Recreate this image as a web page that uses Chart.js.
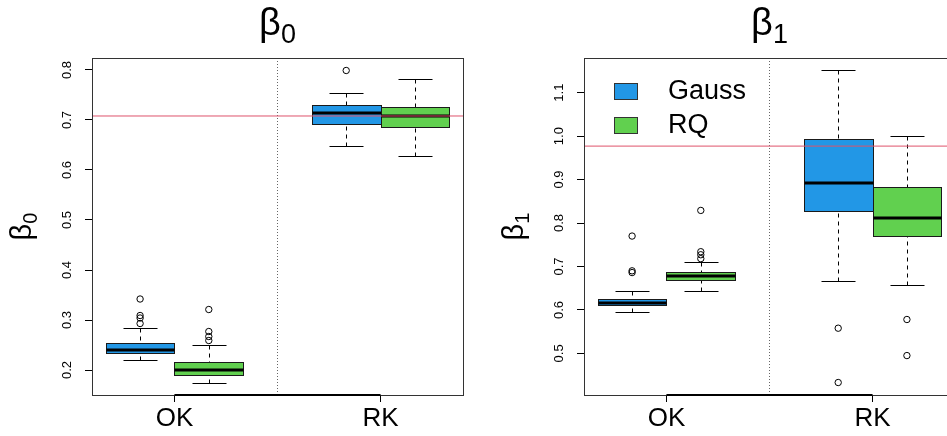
<!DOCTYPE html>
<html>
<head>
<meta charset="utf-8">
<script src="https://cdn.jsdelivr.net/npm/chart.js@4.4.1/dist/chart.umd.min.js"></script>
<style>
  html, body { margin: 0; padding: 0; background: #fff; overflow: hidden; }
  #wrap { position: relative; width: 947px; height: 436px; overflow: hidden; }
  .panel { position: absolute; top: 0; width: 492px; height: 436px; }
</style>
</head>
<body>
<div id="wrap">
  <div class="panel" style="left:0"><canvas id="b0" width="492" height="436"></canvas></div>
  <div class="panel" style="left:492px"><canvas id="b1" width="492" height="436"></canvas></div>
</div>
<script>
const FONT = '"Liberation Sans", Arial, Helvetica, sans-serif';

const groups = ['OK', 'RK'];
const methods = ['Gauss', 'RQ'];
const colors = ['#2297E6', '#61D04F'];

// boxes: [lower whisker, Q1, median, Q3, upper whisker], one per group
const b0Gauss = [[0.220, 0.235, 0.240, 0.255, 0.285], [0.648, 0.692, 0.713, 0.730, 0.753]];
const b0RQ = [[0.175, 0.191, 0.200, 0.216, 0.250], [0.628, 0.686, 0.707, 0.725, 0.781]];
const b0GaussOut = [[0.342, 0.309, 0.304, 0.293], [0.799]];
const b0RQOut = [[0.321, 0.277, 0.267, 0.259], []];
const b0True = 0.708;
const b0Ticks = [0.2, 0.3, 0.4, 0.5, 0.6, 0.7, 0.8];

const b1Gauss = [[0.596, 0.611, 0.617, 0.625, 0.644], [0.667, 0.827, 0.893, 0.994, 1.151]];
const b1RQ = [[0.644, 0.668, 0.677, 0.687, 0.711], [0.657, 0.769, 0.812, 0.883, 1.001]];
const b1GaussOut = [[0.770, 0.690, 0.686], [0.558, 0.433]];
const b1RQOut = [[0.829, 0.734, 0.727, 0.718], [0.578, 0.495]];
const b1True = 0.977;
const b1Ticks = [0.5, 0.6, 0.7, 0.8, 0.9, 1.0, 1.1];

// box position: OK -> 1,2 ; RK -> 4,5 ; separator at 3
const boxPos = (g, k) => g * 3 + k + 1;

function drawBeta(ctx, sub, big, small, drop) {
  ctx.font = big + 'px ' + FONT;
  const w1 = ctx.measureText('β').width;
  ctx.font = small + 'px ' + FONT;
  const w2 = ctx.measureText(sub).width;
  const x0 = -(w1 + w2) / 2;
  ctx.textAlign = 'left';
  ctx.textBaseline = 'alphabetic';
  ctx.fillStyle = '#000';
  ctx.font = big + 'px ' + FONT;
  ctx.fillText('β', x0, 0);
  ctx.font = small + 'px ' + FONT;
  ctx.fillText(sub, x0 + w1, drop);
}

const panelPlugin = {
  id: 'panel',
  beforeDatasetsDraw(chart, args, opts) {
    const {ctx, scales: {x, y}} = chart;
    const px = v => Math.round(x.getPixelForValue(v)) + 0.5;
    const py = v => Math.round(y.getPixelForValue(v)) + 0.5;
    ctx.save();
    opts.series.forEach((stats, k) => {
      stats.forEach((s, g) => {
        const p = boxPos(g, k);
        const xc = px(p), xl = px(p - 0.5), xr = px(p + 0.5);
        const cl = px(p - 0.25), cr = px(p + 0.25);
        const [w0, q1, md, q3, w1] = s.map(py);
        ctx.strokeStyle = '#000';
        ctx.lineWidth = 1;
        ctx.setLineDash([4, 4]);
        ctx.beginPath();
        ctx.moveTo(xc, w1); ctx.lineTo(xc, q3);
        ctx.moveTo(xc, w0); ctx.lineTo(xc, q1);
        ctx.stroke();
        ctx.setLineDash([]);
        ctx.beginPath();
        ctx.moveTo(cl, w1); ctx.lineTo(cr, w1);
        ctx.moveTo(cl, w0); ctx.lineTo(cr, w0);
        ctx.stroke();
        ctx.fillStyle = colors[k];
        ctx.fillRect(xl, q3, xr - xl, q1 - q3);
        ctx.strokeStyle = '#1a1a1a';
        ctx.strokeRect(xl, q3, xr - xl, q1 - q3);
        ctx.strokeStyle = '#000';
        ctx.lineWidth = 3;
        ctx.beginPath();
        ctx.moveTo(xl, md - 0.5); ctx.lineTo(xr, md - 0.5);
        ctx.stroke();
      });
    });
    ctx.restore();
  },
  afterDraw(chart, args, opts) {
    const {ctx, chartArea: a, scales: {x}} = chart;
    ctx.save();
    // frame
    ctx.strokeStyle = '#333';
    ctx.lineWidth = 1;
    ctx.strokeRect(Math.round(a.left) + 0.5, Math.round(a.top) + 0.5,
      Math.round(a.right - a.left), Math.round(a.bottom - a.top));
    // x axis line between first and last tick
    ctx.strokeStyle = '#000';
    ctx.lineWidth = 2;
    ctx.beginPath();
    ctx.moveTo(x.getPixelForValue(1.5), Math.round(a.bottom));
    ctx.lineTo(x.getPixelForValue(4.5), Math.round(a.bottom));
    ctx.stroke();
    // main title
    ctx.save();
    ctx.translate((a.left + a.right) / 2, 34.5);
    drawBeta(ctx, opts.sub, 38, 27, 8.3);
    ctx.restore();
    // y axis title
    ctx.save();
    ctx.translate(31, (a.top + a.bottom) / 2);
    ctx.rotate(-Math.PI / 2);
    drawBeta(ctx, opts.sub, 29, 20, 5.8);
    ctx.restore();
    // legend
    if (opts.legend) {
      methods.forEach((m, k) => {
        const top = 83 + k * 34;
        ctx.fillStyle = colors[k];
        ctx.fillRect(122.5, top + 0.5, 23, 16);
        ctx.strokeStyle = '#333';
        ctx.lineWidth = 1;
        ctx.strokeRect(122.5, top + 0.5, 23, 16);
        ctx.fillStyle = '#000';
        ctx.font = '27px ' + FONT;
        ctx.textAlign = 'left';
        ctx.textBaseline = 'middle';
        ctx.fillText(m, 176, top + 9);
      });
    }
    ctx.restore();
  }
};

function makePanel(id, sub, gauss, rq, gaussOut, rqOut, truth, yTicks, legend) {
  const all = [gauss, rq, gaussOut, rqOut].flat(2);
  const lo = Math.min(...all), hi = Math.max(...all);
  const yMin = lo - (hi - lo) * 0.04, yMax = hi + (hi - lo) * 0.04;
  const xMin = 0.5 - 5 * 0.04, xMax = 5.5 + 5 * 0.04;
  const outPts = (out, k) => out.flatMap((vals, g) => vals.map(v => ({x: boxPos(g, k), y: v})));
  const tickGrid = {drawOnChartArea: false, drawTicks: true, tickLength: 7, color: '#000', lineWidth: 1};

  return new Chart(document.getElementById(id), {
    type: 'scatter',
    data: {
      datasets: [
        {data: outPts(gaussOut, 0), pointRadius: 3.2, pointBorderColor: '#000',
         pointBackgroundColor: 'rgba(0,0,0,0)', pointBorderWidth: 1},
        {data: outPts(rqOut, 1), pointRadius: 3.2, pointBorderColor: '#000',
         pointBackgroundColor: 'rgba(0,0,0,0)', pointBorderWidth: 1},
        {data: [{x: xMin, y: truth}, {x: xMax, y: truth}], showLine: true,
         borderColor: '#DF536B', borderWidth: 1, pointRadius: 0},
        {data: [{x: 3, y: yMin}, {x: 3, y: yMax}], showLine: true,
         borderColor: '#666', borderWidth: 1, borderDash: [1, 2], pointRadius: 0}
      ]
    },
    options: {
      responsive: false,
      animation: false,
      events: [],
      layout: {padding: {top: 58, right: 29, left: 0, bottom: 0}},
      plugins: {
        legend: {display: false},
        tooltip: {enabled: false},
        panel: {sub: sub, legend: legend, series: [gauss, rq]}
      },
      scales: {
        x: {
          type: 'linear', min: xMin, max: xMax,
          afterFit: s => { s.height = 41; },
          afterBuildTicks: s => { s.ticks = [{value: 1.5}, {value: 4.5}]; },
          ticks: {autoSkip: false, maxRotation: 0, padding: 1, color: '#000',
                  font: {family: FONT, size: 26}, callback: (v, i) => groups[i]},
          grid: tickGrid,
          border: {display: false}
        },
        y: {
          type: 'linear', min: yMin, max: yMax,
          afterFit: s => { s.width = 92; },
          afterBuildTicks: s => { s.ticks = yTicks.map(v => ({value: v})); },
          ticks: {autoSkip: false, minRotation: 90, maxRotation: 90, crossAlign: 'center',
                  padding: 9, color: '#000', font: {family: FONT, size: 13},
                  callback: v => v.toFixed(1)},
          grid: tickGrid,
          border: {display: false}
        }
      }
    },
    plugins: [panelPlugin]
  });
}

makePanel('b0', '0', b0Gauss, b0RQ, b0GaussOut, b0RQOut, b0True, b0Ticks, false);
makePanel('b1', '1', b1Gauss, b1RQ, b1GaussOut, b1RQOut, b1True, b1Ticks, true);
</script>
</body>
</html>
